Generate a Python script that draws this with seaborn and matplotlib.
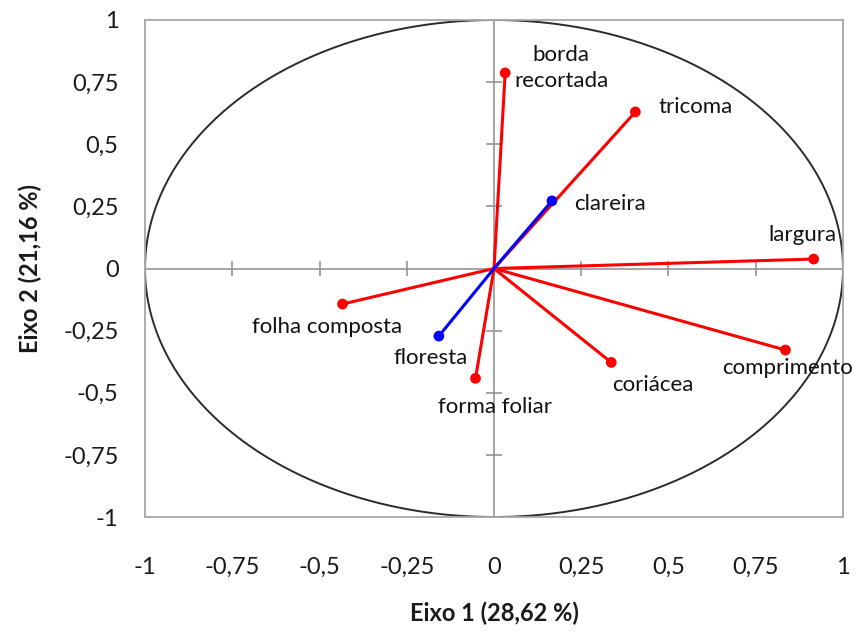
import numpy as np
import pandas as pd
import matplotlib
matplotlib.use("Agg")
import matplotlib.pyplot as plt
import seaborn as sns

# ---- data ----
variables = ["borda\nrecortada", "tricoma", "clareira", "largura", "folha composta",
             "floresta", "forma foliar", "coriácea", "comprimento"]
eixo1 = [0.032, 0.405, 0.166, 0.916, -0.434, -0.158, -0.053, 0.336, 0.835]
eixo2 = [0.787, 0.630, 0.272, 0.038, -0.143, -0.272, -0.442, -0.378, -0.328]
grupo = ["var", "var", "amb", "var", "var", "amb", "var", "var", "var"]
tick_values = [-1, -0.75, -0.5, -0.25, 0, 0.25, 0.5, 0.75, 1]
tick_labels = ["-1", "-0,75", "-0,5", "-0,25", "0", "0,25", "0,5", "0,75", "1"]
xlabel = "Eixo 1 (28,62 %)"
ylabel = "Eixo 2 (21,16 %)"

# label offsets in pixels (layout only)
label_offsets = {
    "borda\nrecortada": (56, 5), "tricoma": (60, 5), "clareira": (58, -3),
    "largura": (-11, 24), "folha composta": (-15, -23), "floresta": (-8, -22),
    "forma foliar": (19, -29), "coriácea": (42, -23), "comprimento": (2, -18),
}
palette = {"var": "#ff0000", "amb": "#0000ff"}

df = pd.DataFrame({"var": variables, "x": eixo1, "y": eixo2, "grupo": grupo})

sns.set_theme(style="white")
plt.rcParams["font.family"] = ["Lato", "DejaVu Sans"]

fig = plt.figure(figsize=(8.6, 6.32), dpi=100)
ax = fig.add_axes([145 / 860, 1 - 517 / 632, (843 - 145) / 860, (517 - 20) / 632])

# unit circle
theta = np.linspace(0, 2 * np.pi, 400)
ax.plot(np.cos(theta), np.sin(theta), color="#2b2b2b", lw=1.4, zorder=2)

# central axes + cross ticks
ax.axhline(0, color="#8c8c8c", lw=1.1, zorder=1)
ax.axvline(0, color="#8c8c8c", lw=1.1, zorder=1)
inner = [t for t in tick_values if t not in (-1, 0, 1)]
ax.vlines(inner, -0.032, 0.032, color="#8c8c8c", lw=1.1, zorder=1)
ax.hlines(inner, -0.023, 0.023, color="#8c8c8c", lw=1.1, zorder=1)

# vectors: red first, blue on top
for g, z in (("var", 3), ("amb", 4)):
    sub = df[df["grupo"] == g]
    for _, r in sub.iterrows():
        ax.plot([0, r["x"]], [0, r["y"]], color=palette[g], lw=2.2, zorder=z,
                solid_capstyle="round")
sns.scatterplot(data=df, x="x", y="y", hue="grupo", palette=palette, s=60,
                edgecolor="none", legend=False, ax=ax, zorder=5)

for _, r in df.iterrows():
    dx, dy = label_offsets[r["var"]]
    ax.annotate(r["var"], (r["x"], r["y"]), xytext=(dx, dy), textcoords="offset pixels",
                ha="center", va="center", multialignment="center", fontsize=16,
                color="#111111", linespacing=1.35, zorder=6)

ax.set_xlim(-1, 1)
ax.set_ylim(-1, 1)
ax.set_xticks(tick_values)
ax.set_xticklabels(tick_labels)
ax.set_yticks(tick_values)
ax.set_yticklabels(tick_labels)
ax.tick_params(length=0, labelsize=17, labelcolor="#1a1a1a")
ax.tick_params(axis="x", pad=29)
ax.tick_params(axis="y", pad=19)
for s in ax.spines.values():
    s.set_color("#a6a6a6")
    s.set_linewidth(1.3)
ax.set_xlabel(xlabel, fontsize=17, fontweight="bold", color="#1a1a1a")
ax.set_ylabel(ylabel, fontsize=17, fontweight="bold", color="#1a1a1a")
ax.xaxis.set_label_coords(0.5, (517 - 602) / 497)
ax.yaxis.set_label_coords((42 - 145) / 698, 0.5)

fig.savefig("out.png", dpi=100)
